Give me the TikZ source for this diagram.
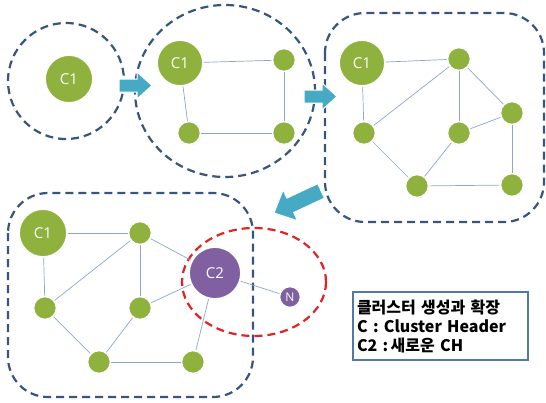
\documentclass[tikz,border=0pt]{standalone}
\usepackage{fontspec}
\setmainfont{Open Sans}
\newfontfamily\kr{Noto Sans CJK KR}
\usetikzlibrary{shadows}
\definecolor{ngreen}{RGB}{143,178,62}
\definecolor{npurple}{RGB}{128,96,160}
\definecolor{dashblue}{RGB}{55,85,125}
\definecolor{edgeblue}{RGB}{140,165,205}
\definecolor{arrowblue}{RGB}{70,170,196}
\definecolor{redd}{RGB}{225,35,35}
\definecolor{boxblue}{RGB}{80,120,170}
\tikzset{
  bigc/.style={circle, fill=ngreen, draw=white, line width=1.8pt, minimum size=48pt, inner sep=0pt,
    text=white, font=\fontsize{15}{15}\selectfont,
    drop shadow={opacity=0.3, shadow xshift=0.6pt, shadow yshift=-0.6pt}},
  smallc/.style={circle, fill=ngreen, draw=white, line width=1.6pt, minimum size=23pt, inner sep=0pt,
    drop shadow={opacity=0.3, shadow xshift=0.6pt, shadow yshift=-0.6pt}},
  ch2/.style={bigc, fill=npurple, minimum size=52pt},
  nn/.style={smallc, fill=npurple, minimum size=21pt, text=white, font=\fontsize{12}{12}\selectfont},
  edge/.style={draw=edgeblue, line width=0.7pt},
  clus/.style={draw=dashblue, line width=2.2pt, dash pattern=on 8pt off 5pt},
  redclus/.style={draw=redd, line width=2.2pt, dash pattern=on 8pt off 5pt},
  barrow/.style={fill=arrowblue, draw=white, line width=1pt},
  textbox/.style={draw=boxblue, line width=1.2pt, fill=white, align=left, inner sep=0pt,
    minimum width=175pt, minimum height=68pt, text width=167pt,
    font=\kr\bfseries\fontsize{16}{19}\selectfont}
}
\begin{document}
\begin{tikzpicture}[x=1pt,y=-1pt]
\useasboundingbox (0,0) rectangle (546,402);
% cluster outlines
\draw[clus] (66,81) ellipse [x radius=58, y radius=58];
\draw[clus] (225,91) ellipse [x radius=90, y radius=86];
\draw[clus, rounded corners=40pt] (325,13) rectangle (544,222);
\draw[clus, rounded corners=40pt] (8,193) rectangle (253,397);
\draw[redclus] (254,282) ellipse [x radius=72, y radius=54];
% arrows
\draw[barrow] (119,79) -- (137,79) -- (137,72) -- (152,85.5) -- (137,99) -- (137,92) -- (119,92) -- cycle;
\draw[barrow] (304,90) -- (322,90) -- (322,83) -- (337,96.5) -- (322,110) -- (322,103) -- (304,103) -- cycle;
\draw[barrow] (274,213) -- (283.1,189.9) -- (286.9,198.1) -- (317.7,183.7) -- (324.5,198.1) -- (293.7,212.5) -- (297.5,220.7) -- cycle;
% panel 1
\node[bigc] (p1c) at (69,79) {C1};
% panel 2
\node[bigc, minimum size=46pt] (p2c) at (180,63) {C1};
\node[smallc] (p2a) at (284,60) {};
\node[smallc] (p2b) at (189,133) {};
\node[smallc] (p2d) at (284,133) {};
\draw[edge] (p2c) -- (p2a);
\draw[edge] (p2c) -- (p2b);
\draw[edge] (p2b) -- (p2d);
\draw[edge] (p2a) -- (p2d);
% panel 3
\node[bigc, minimum size=46pt] (p3c) at (362,63) {C1};
\node[smallc] (p3a) at (459,59) {};
\node[smallc] (p3b) at (512,113) {};
\node[smallc] (p3c2) at (364,133) {};
\node[smallc] (p3d) at (459,133) {};
\node[smallc] (p3e) at (417,186) {};
\node[smallc] (p3f) at (512,185) {};
\draw[edge] (p3c) -- (p3a);
\draw[edge] (p3c) -- (p3c2);
\draw[edge] (p3c2) -- (p3a);
\draw[edge] (p3a) -- (p3d);
\draw[edge] (p3a) -- (p3b);
\draw[edge] (p3d) -- (p3b);
\draw[edge] (p3c2) -- (p3e);
\draw[edge] (p3e) -- (p3d);
\draw[edge] (p3e) -- (p3f);
\draw[edge] (p3f) -- (p3b);
% panel 4
\node[bigc] (p4c) at (43,233) {C1};
\node[smallc] (p4g) at (140,233) {};
\node[smallc] (p4h) at (45,308) {};
\node[smallc] (p4i) at (140,308) {};
\node[smallc] (p4j) at (99,362) {};
\node[smallc] (p4k) at (193,362) {};
\node[ch2] (p4x) at (215,273) {C2};
\node[nn] (p4n) at (290,297) {N};
\draw[edge] (p4c) -- (p4g);
\draw[edge] (p4c) -- (p4h);
\draw[edge] (p4h) -- (p4g);
\draw[edge] (p4g) -- (p4i);
\draw[edge] (p4g) -- (p4x);
\draw[edge] (p4i) -- (p4x);
\draw[edge] (p4h) -- (p4j);
\draw[edge] (p4j) -- (p4i);
\draw[edge] (p4j) -- (p4k);
\draw[edge] (p4k) -- (p4x);
\draw[edge] (p4x) -- (p4n);
% legend
\node[textbox] (legend) at (440.5,326) {클러스터 생성과 확장\\C : Cluster Header\\C2 :\kern-3pt\ 새로운 CH};
\end{tikzpicture}
\end{document}
